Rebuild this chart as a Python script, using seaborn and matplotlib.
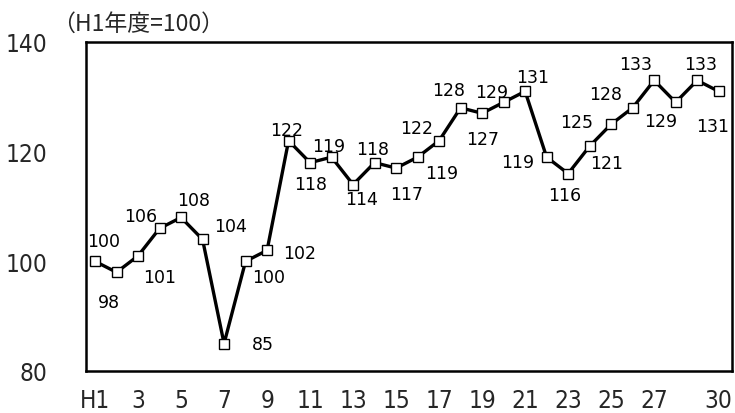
import matplotlib
matplotlib.use("Agg")
import matplotlib.pyplot as plt
import seaborn as sns
import pandas as pd
from matplotlib import font_manager as fm

years = list(range(1, 31))
values = [100, 98, 101, 106, 108, 104, 85, 100, 102, 122,
          118, 119, 114, 118, 117, 119, 122, 128, 127, 129,
          131, 119, 116, 121, 125, 128, 133, 129, 133, 131]
tick_years = [1, 3, 5, 7, 9, 11, 13, 15, 17, 19, 21, 23, 25, 27, 30]
tick_labels = ["H1", "3", "5", "7", "9", "11", "13", "15", "17", "19",
               "21", "23", "25", "27", "30"]
y_ticks = [80, 100, 120, 140]
title_text = "（H1年度=100）"

# label offsets (pixels) relative to each marker
label_dx = [9, -8, 22, -19, 13, 28, 39, 23, 33, -2,
            1, -3, 8, -2, 11, 24, -22, -12, 1, -12,
            7, -29, -3, 17, -35, -27, -19, -15, 3, -6]
label_dy = [20, -30, -21, 12, 17, 13, 0, -16, -3, 11,
            -21, 11, -14, 14, -26, -16, 13, 18, -26, 10,
            14, -5, -21, -17, 2, 14, 16, -19, 16, -35]

sns.set_theme(style="white")
plt.rcParams['font.family'] = ['Noto Sans CJK JP', 'DejaVu Sans']

cond = fm.FontProperties(family="DejaVu Sans", stretch="condensed", size=17.5)
cond_file = fm.findfont(cond)
tick_fp = fm.FontProperties(fname=cond_file, size=17.5)

df = pd.DataFrame({"year": years, "value": values})

fig = plt.figure(figsize=(7.35, 4.14), dpi=100)
ax = fig.add_axes([86/735, 1-372/414, (732-86)/735, (372-43)/414])

sns.lineplot(data=df, x="year", y="value", ax=ax, color="black", linewidth=2.4,
             marker="s", markersize=7.5, markerfacecolor="white",
             markeredgecolor="black", markeredgewidth=1.0)

for x, v, dx, dy in zip(years, values, label_dx, label_dy):
    ax.annotate(str(v), (x, v), xytext=(dx, dy), textcoords="offset pixels",
                ha="center", va="center", fontsize=12.5, family=['DejaVu Sans'],
                color="black")

ax.set_xlim(0.58, 30.62)
ax.set_ylim(80, 140)
ax.set_xticks(tick_years)
ax.set_xticklabels(tick_labels)
ax.set_yticks(y_ticks)
ax.set_xlabel("")
ax.set_ylabel("")
for lab in ax.get_xticklabels() + ax.get_yticklabels():
    lab.set_fontproperties(tick_fp)
ax.tick_params(axis="x", length=0, pad=12)
ax.tick_params(axis="y", length=0, pad=28)
for s in ax.spines.values():
    s.set_color("black")
    s.set_linewidth(1.8)
ax.grid(False)

fig.text(52/735, 1-24/414, title_text, ha="left", va="center", fontsize=16.5,
         family=['Noto Sans CJK JP', 'DejaVu Sans'])

fig.savefig("out.png", dpi=100, facecolor="white")
